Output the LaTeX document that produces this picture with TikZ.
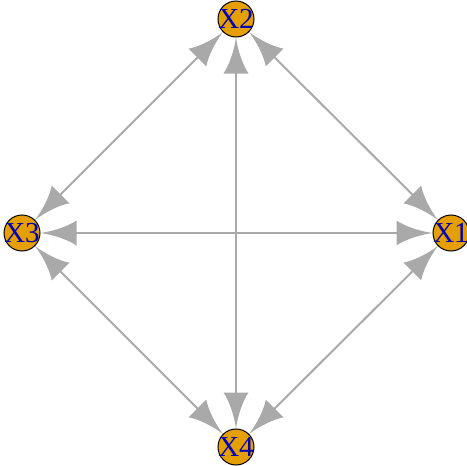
\documentclass[tikz,border=0pt]{standalone}
\usepackage{fontspec}
\setmainfont{Liberation Serif}
\usetikzlibrary{arrows.meta,backgrounds}
\definecolor{vorange}{HTML}{E69F00}
\definecolor{egray}{HTML}{A9A9A9}
\definecolor{lblue}{HTML}{0000B0}
\pgfdeclarearrow{
  name=IGhead,
  setup code={
    \pgfarrowssettipend{0pt}
    \pgfarrowssetbackend{-36pt}
    \pgfarrowssetlineend{-30pt}
    \pgfarrowsupperhullpoint{0pt}{0pt}
    \pgfarrowsupperhullpoint{-36pt}{12.5pt}
  },
  drawing code={
    \pgfpathmoveto{\pgfpointorigin}
    \pgfpathcurveto{\pgfpoint{-14pt}{2pt}}{\pgfpoint{-28pt}{7pt}}{\pgfpoint{-36pt}{12.5pt}}
    \pgfpathlineto{\pgfpoint{-36pt}{-12.5pt}}
    \pgfpathcurveto{\pgfpoint{-28pt}{-7pt}}{\pgfpoint{-14pt}{-2pt}}{\pgfpointorigin}
    \pgfpathclose
    \pgfusepathqfill
  }
}
\tikzset{
  vert/.style={circle, draw=black, line width=1pt, fill=vorange, minimum size=36pt, inner sep=0pt},
  vlab/.style={label={[text=lblue, font=\fontsize{29}{30}\selectfont, inner sep=0pt]center:#1}},
  edge/.style={draw=egray, line width=2pt, {IGhead}-{IGhead}}
}
\begin{document}
\begin{tikzpicture}[x=1pt,y=-1pt]
\useasboundingbox (0,0) rectangle (467,466);
\node[vert, vlab=X2] (X2) at (236,19) {};
\node[vert, vlab=X3] (X3) at (22,233) {};
\node[vert, vlab=X1] (X1) at (451,233) {};
\node[vert, vlab=X4] (X4) at (236,447) {};
\begin{scope}[on background layer]
\draw[edge] (X2) -- (X1);
\draw[edge] (X2) -- (X3);
\draw[edge] (X2) -- (X4);
\draw[edge] (X3) -- (X1);
\draw[edge] (X3) -- (X4);
\draw[edge] (X4) -- (X1);
\end{scope}
\end{tikzpicture}
\end{document}
